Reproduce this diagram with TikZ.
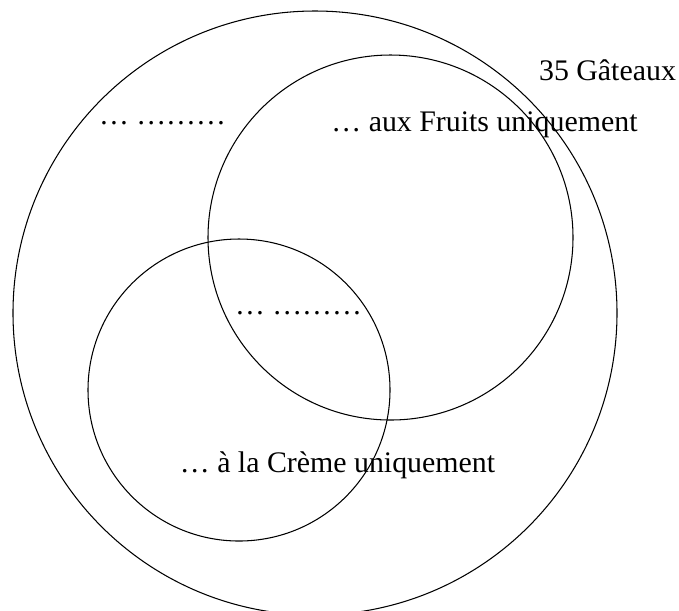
\documentclass[tikz,border=0pt]{standalone}
\usepackage{fontspec}
\setmainfont{Liberation Serif}
\begin{document}
\begin{tikzpicture}[
    x=0.02cm, y=-0.02cm,
    ensemble/.style={line width=0.6pt},
    etiquette/.style={anchor=base, inner sep=0pt, font=\fontsize{17}{20}\selectfont}
  ]
    \useasboundingbox (0,0) rectangle (679,610);
    % Ensembles
    \draw[ensemble] (315,313) circle (302);
    \draw[ensemble] (390.5,237.5) circle (182.5);
    \draw[ensemble] (239,390) circle (151);

    % Effectifs
    \node[etiquette] (total) at (607.5,80) {35 Gâteaux};
    \node[etiquette] (autres) at (162.5,124.5) {\ldots{} \ldots\ldots\ldots};
    \node[etiquette] (fruits) at (484.5,131) {\ldots{} aux Fruits uniquement};
    \node[etiquette] (inter) at (298.5,314) {\ldots{} \ldots\ldots\ldots};
    \node[etiquette] (creme) at (337.5,472) {\ldots{} à la Crème uniquement};
  \end{tikzpicture}
\end{document}
